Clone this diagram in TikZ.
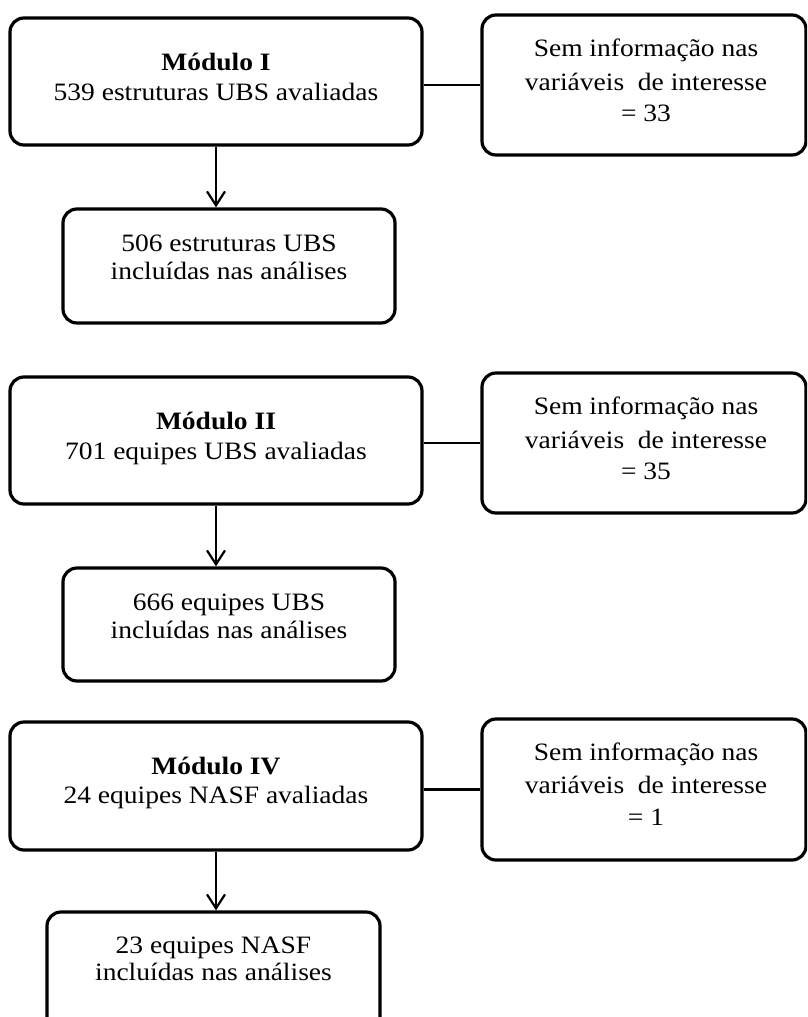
\documentclass[tikz,border=0pt]{standalone}
\usepackage{fontspec}
\setmainfont{Liberation Serif}[FakeStretch=1.1]
\usetikzlibrary{arrows.meta}
\begin{document}
\begin{tikzpicture}[x=1pt,y=-1pt,
  box/.style={draw=black, line width=3.2pt, rounded corners=14pt, inner sep=0pt, fill=white},
  txt/.style={inner sep=0pt, anchor=base, font=\fontsize{25}{30}\selectfont},
  link/.style={draw=black, line width=2.6pt},
  arr/.style={draw=black, line width=2.2pt, -{Straight Barb[length=14pt,width=18pt,line width=2.2pt]}}]
\useasboundingbox (0,0) rectangle (807,1017);
\clip (0,0) rectangle (807,1017);
\fill[white] (0,0) rectangle (807,1017);

% ---------- Módulo I ----------
\node[box, minimum width=412pt, minimum height=127pt] (m1) at (216,81.5) {};
\node[txt] (m1a) at (216,70.7) {\textbf{Módulo I}};
\node[txt] (m1b) at (216,100) {539 estruturas UBS avaliadas};
\node[box, minimum width=324pt, minimum height=140pt] (s1) at (644,85) {};
\node[txt] (s1a) at (646,56.7) {Sem informação nas};
\node[txt] (s1b) at (646,90) {variáveis\ \ de interesse};
\node[txt] (s1c) at (646,121.7) {= 33};
\node[box, minimum width=332pt, minimum height=114pt] (r1) at (229,266) {};
\node[txt] (r1a) at (229,251.5) {506 estruturas UBS};
\node[txt] (r1b) at (229,279.5) {incluídas nas análises};
\draw[link] (s1.west) -- (s1.west -| m1.east);
\draw[arr] (m1.south) -- (m1.south |- r1.north);

% ---------- Módulo II ----------
\node[box, minimum width=412pt, minimum height=127pt] (m2) at (216,440.5) {};
\node[txt] (m2a) at (216,429.7) {\textbf{Módulo II}};
\node[txt] (m2b) at (216,459) {701 equipes UBS avaliadas};
\node[box, minimum width=324pt, minimum height=140pt] (s2) at (644,443) {};
\node[txt] (s2a) at (646,414.7) {Sem informação nas};
\node[txt] (s2b) at (646,448) {variáveis\ \ de interesse};
\node[txt] (s2c) at (646,479.7) {= 35};
\node[box, minimum width=332pt, minimum height=113pt] (r2) at (229,624.5) {};
\node[txt] (r2a) at (229,610.7) {666 equipes UBS};
\node[txt] (r2b) at (229,638.5) {incluídas nas análises};
\draw[link] (s2.west) -- (s2.west -| m2.east);
\draw[arr] (m2.south) -- (m2.south |- r2.north);

% ---------- Módulo IV ----------
\node[box, minimum width=412pt, minimum height=128pt] (m3) at (216,786) {};
\node[txt] (m3a) at (216,774.2) {\textbf{Módulo IV}};
\node[txt] (m3b) at (216,803.5) {24 equipes NASF avaliadas};
\node[box, minimum width=324pt, minimum height=141pt] (s3) at (644,789.5) {};
\node[txt] (s3a) at (646,760) {Sem informação nas};
\node[txt] (s3b) at (646,793.5) {variáveis\ \ de interesse};
\node[txt] (s3c) at (646,825.5) {= 1};
\node[box, minimum width=333pt, minimum height=130pt] (r3) at (213.5,977) {};
\node[txt] (r3a) at (213.5,953) {23 equipes NASF};
\node[txt] (r3b) at (213.5,980.5) {incluídas nas análises};
\draw[link] (s3.west) -- (s3.west -| m3.east);
\draw[arr] (m3.south) -- (m3.south |- r3.north);
\end{tikzpicture}
\end{document}
